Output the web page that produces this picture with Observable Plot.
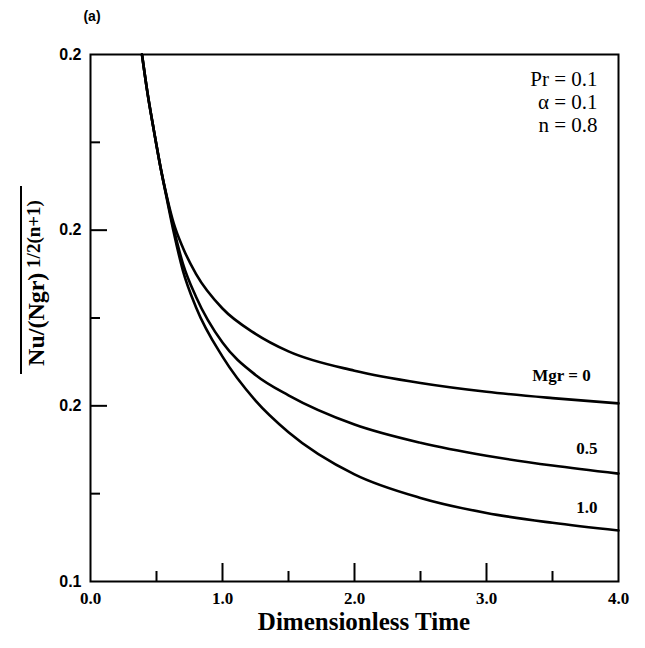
<!DOCTYPE html>
<html>
<head>
<meta charset="utf-8">
<script src="https://cdn.jsdelivr.net/npm/d3@7"></script>
<script src="https://cdn.jsdelivr.net/npm/@observablehq/plot@0.6"></script>
<style>
  html, body { margin: 0; padding: 0; background: #fff; }
</style>
</head>
<body>
<div id="chart"></div>
<script>
// ---- data ----
const time  = [0.39, 0.43, 0.48, 0.53, 0.58, 0.63, 0.7, 0.8, 1.0, 1.25, 1.5, 2.0, 2.5, 3.0, 3.5, 4.0];
const mgr0  = [0.25, 0.2395, 0.2284, 0.2180, 0.2093, 0.2020, 0.1950, 0.1875, 0.1777, 0.1705, 0.1655, 0.1600, 0.1565, 0.1540, 0.1522, 0.1507];
const mgr05 = [0.25, 0.2395, 0.2284, 0.2180, 0.2090, 0.2005, 0.1905, 0.1810, 0.1680, 0.1588, 0.1530, 0.1447, 0.1395, 0.1358, 0.1330, 0.1307];
const mgr10 = [0.25, 0.2395, 0.2284, 0.2180, 0.2086, 0.1995, 0.1885, 0.1780, 0.1640, 0.1515, 0.1425, 0.1305, 0.1238, 0.1195, 0.1167, 0.1145];
const seriesNames = ["Mgr = 0", "0.5", "1.0"];
const seriesValues = [mgr0, mgr05, mgr10];
// label anchor positions (data units) for the curve labels
const labelT = [3.79, 3.84, 3.84];
const labelV = [0.1586, 0.1379, 0.1211];

const xTickValues = [0, 1, 2, 3, 4];
const xTickLabels = ["0.0", "1.0", "2.0", "3.0", "4.0"];
const xMajor = [1, 2, 3];
const xMinor = [0.5, 1.5, 2.5, 3.5];
const yTickValues = [0.1, 0.15, 0.2, 0.25];
const yTickLabels = ["0.1", "0.2", "0.2", "0.2"];
const yMajor = [0.15, 0.2];
const yMinor = [0.125, 0.175, 0.225];
const params = "Pr = 0.1\nα = 0.1\nn = 0.8";

const rows = [];
seriesNames.forEach((s, k) => time.forEach((t, i) => rows.push({series: s, t, v: seriesValues[k][i]})));
const labels = seriesNames.map((s, k) => ({s, t: labelT[k], v: labelV[k]}));

const W = 645, H = 648;
const mL = 90, mR = 27, mT = 54, mB = 67;
const fw = W - mL - mR, fh = H - mT - mB;

const serif = "'Liberation Serif', 'DejaVu Serif', serif";
const sans = "'Liberation Sans', Arial, sans-serif";

const chart = Plot.plot({
  width: W, height: H,
  marginLeft: mL, marginRight: mR, marginTop: mT, marginBottom: mB,
  style: {fontFamily: serif, background: "#fff", color: "#000"},
  x: {domain: [0, 4]},
  y: {domain: [0.1, 0.25]},
  marks: [
    Plot.axisX({ticks: xTickValues, tickFormat: d => xTickLabels[xTickValues.indexOf(d)], tickSize: 0, tickPadding: 10, fontSize: 17, fontWeight: "bold", fontFamily: serif, label: null}),
    Plot.axisY({ticks: yTickValues, tickFormat: d => yTickLabels[yTickValues.indexOf(d)], tickSize: 0, tickPadding: 9, fontSize: 16, fontWeight: "bold", fontFamily: sans, label: null}),
    Plot.tickX(xMajor, {x: d => d, insetTop: fh - 18, strokeWidth: 2}),
    Plot.tickX(xMinor, {x: d => d, insetTop: fh - 10, strokeWidth: 2}),
    Plot.tickY(yMajor, {y: d => d, insetRight: fw - 17, strokeWidth: 2}),
    Plot.tickY(yMinor, {y: d => d, insetRight: fw - 10, strokeWidth: 2}),
    Plot.line(rows, {x: "t", y: "v", z: "series", curve: "monotone-x", stroke: "#000", strokeWidth: 2.6}),
    Plot.text(labels, {x: "t", y: "v", text: "s", textAnchor: "end", fontSize: 17, fontWeight: "bold", fontFamily: serif}),
    Plot.text([params], {frameAnchor: "top-right", textAnchor: "end", lineAnchor: "top", dx: -21, dy: 15, fontSize: 21, lineHeight: 1.1, fontFamily: serif}),
    Plot.frame({stroke: "#000", strokeWidth: 2})
  ]
});

document.getElementById("chart").appendChild(chart);

const svg = d3.select(chart);
svg.append("text")
  .attr("x", 92).attr("y", 21)
  .attr("font-family", sans).attr("font-weight", "bold").attr("font-size", 14)
  .attr("fill", "#000")
  .text("(a)");
svg.append("text")
  .attr("x", mL + fw / 2 + 10).attr("y", 630)
  .attr("text-anchor", "middle")
  .attr("font-family", serif).attr("font-weight", "bold").attr("font-size", 25)
  .attr("fill", "#000")
  .text("Dimensionless Time");
const g = svg.append("g").attr("transform", "translate(44,283) rotate(-90)");
const yl = g.append("text")
  .attr("text-anchor", "middle")
  .attr("font-family", serif).attr("font-weight", "bold").attr("font-size", 24)
  .attr("fill", "#000");
yl.append("tspan").text("Nu/(Ngr)");
yl.append("tspan").attr("dy", -4).attr("font-size", 19).text(" 1/2(n+1)");
const bb = yl.node().getBBox();
g.append("line")
  .attr("x1", bb.x - 8).attr("x2", bb.x + bb.width + 14)
  .attr("y1", bb.y - 2).attr("y2", bb.y - 2)
  .attr("stroke", "#000").attr("stroke-width", 2);
</script>
</body>
</html>
